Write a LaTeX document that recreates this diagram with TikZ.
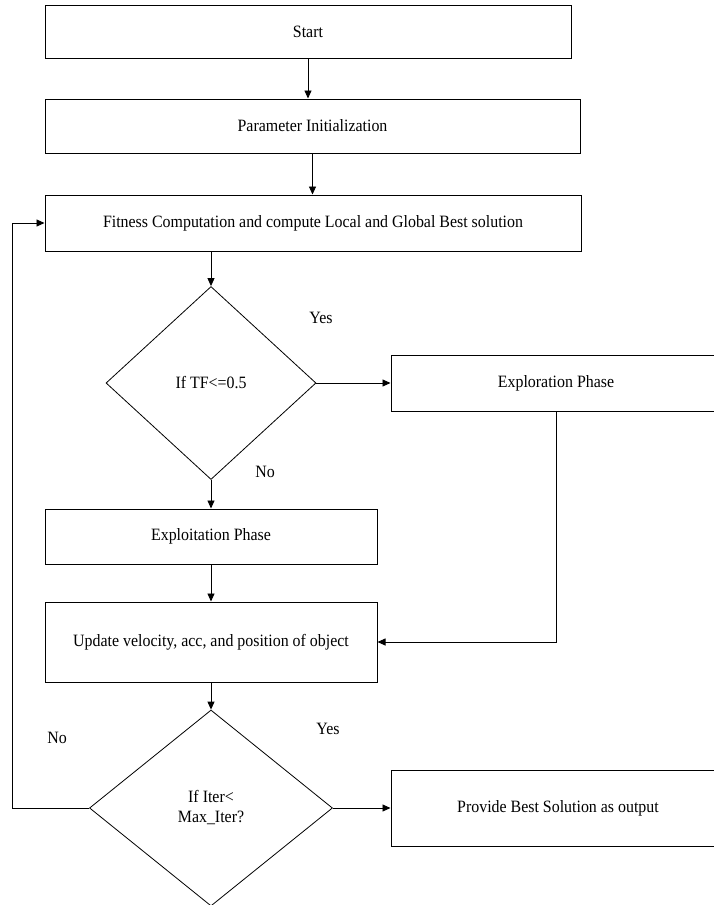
\documentclass[tikz,border=0pt]{standalone}
\usepackage{fontspec}
\setmainfont[FakeStretch=0.92]{Liberation Serif}
\usetikzlibrary{shapes.geometric,arrows.meta}

\begin{document}
\begin{tikzpicture}[x=1pt,y=-1pt,
		box/.style={draw,line width=1pt,inner sep=0pt},
		cond/.style={draw,diamond,line width=0.8pt,inner sep=0pt,align=center},
		flow/.style={-{Triangle[length=8pt,width=7pt]},line width=0.9pt},
		font=\fontsize{17.3}{20}\selectfont]
		\useasboundingbox (0,0) rectangle (714,905);
		\clip (0,0) rectangle (714,905);

		\node[box,minimum width=526,minimum height=53] (start) at (308,31.5) {Start};
		\node[box,minimum width=535,minimum height=54] (init) at (312.5,126) {Parameter Initialization};
		\node[box,minimum width=536,minimum height=56] (fitness) at (313,223) {Fitness Computation and compute Local and Global Best solution};
		\node[cond,minimum width=210,minimum height=193] (tf) at (211,383) {If TF<=0.5};
		\node[box,minimum width=330,minimum height=56] (explore) at (556,383) {Exploration Phase};
		\node[box,minimum width=332,minimum height=55] (exploit) at (211,536.5) {Exploitation Phase};
		\node[box,minimum width=332,minimum height=80] (update) at (211,642) {Update velocity, acc, and position of object};
		\node[cond,minimum width=243,minimum height=196] (iter) at (211,808) {If Iter<\\Max\_Iter?};
		\node[box,minimum width=334,minimum height=76] (output) at (558,808) {Provide Best Solution as output};

		\node (yes1) at (321,318) {Yes};
		\node (no1) at (265,472) {No};
		\node (yes2) at (328,729) {Yes};
		\node (no2) at (57,738) {No};

		\coordinate (loop) at (12,808);

		\draw[flow] (start.south) -- (start.south |- init.north);
		\draw[flow] (init.south) -- (init.south |- fitness.north);
		\draw[flow] (fitness.south -| tf.north) -- (tf.north);
		\draw[flow] (tf.east) -- (explore.west);
		\draw[flow] (tf.south) -- (exploit.north);
		\draw[flow] (exploit) -- (update);
		\draw[flow] (explore.south) |- (update.east);
		\draw[flow] (update) -- (iter);
		\draw[flow] (iter.east) -- (output.west);
		\draw[flow] (iter.west) -- (loop) |- (fitness.west);
	\end{tikzpicture}
\end{document}
